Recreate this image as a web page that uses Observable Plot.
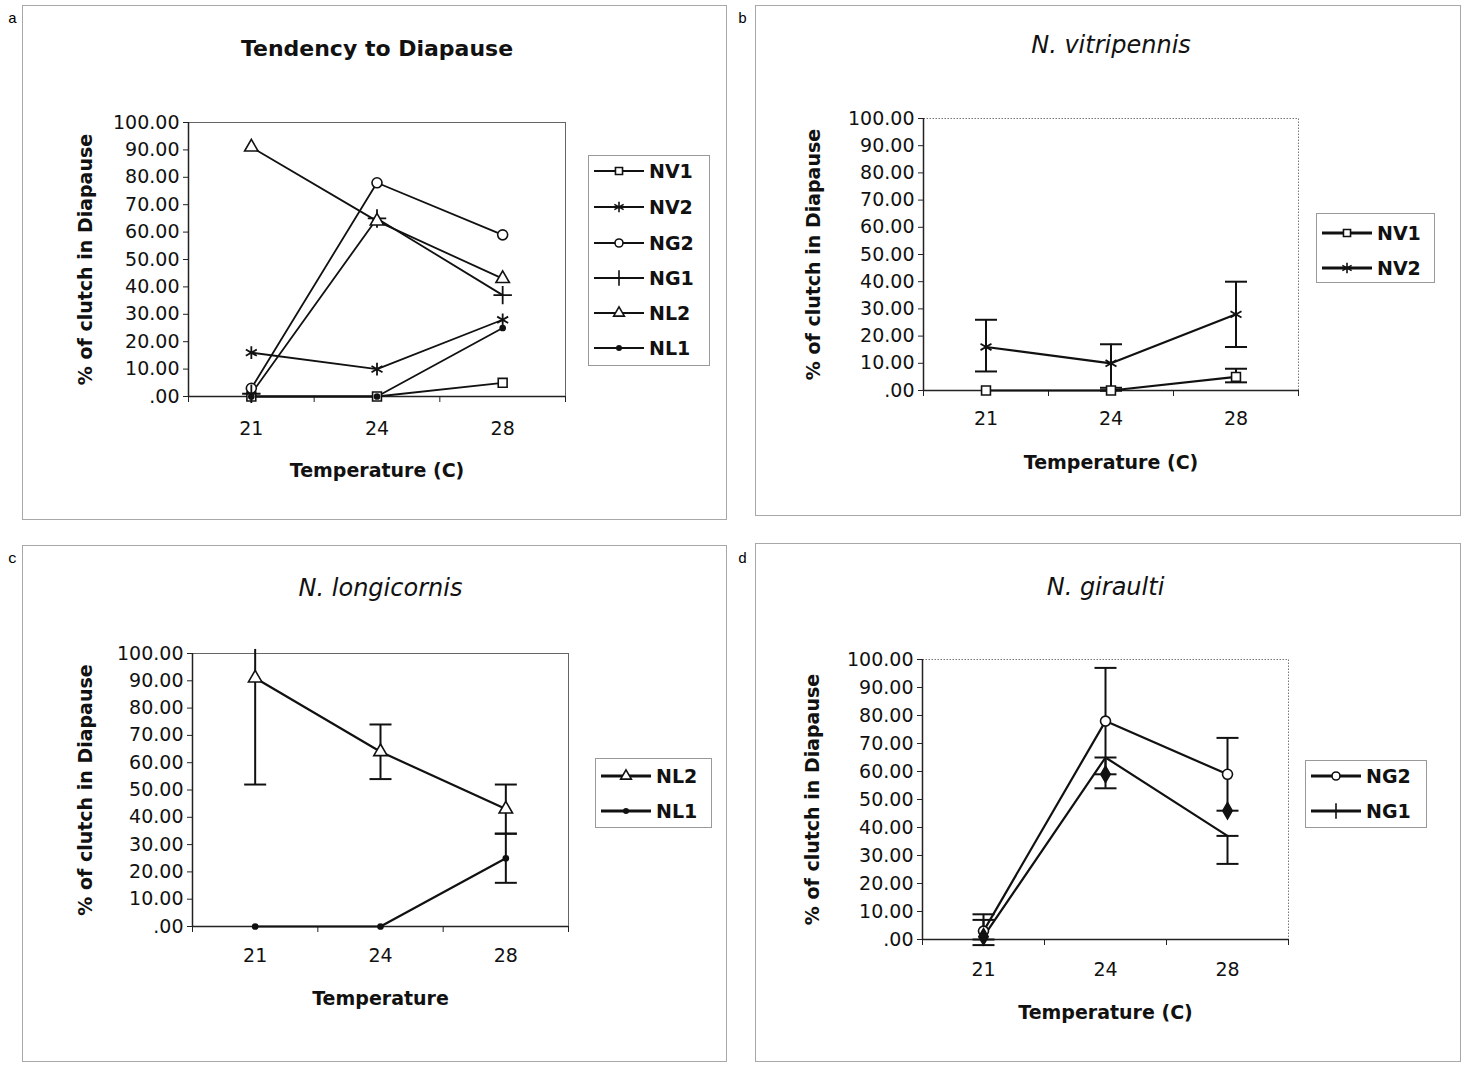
<!DOCTYPE html>
<html><head><meta charset="utf-8">
<script src="https://cdn.jsdelivr.net/npm/d3@7"></script>
<script src="https://cdn.jsdelivr.net/npm/@observablehq/plot@0.6"></script>
<style>
body{margin:0;background:#fff;font-family:"DejaVu Sans",Arial,sans-serif;}
#root{position:relative;width:1461px;height:1065px;overflow:hidden;background:#fff;}
.panel{position:absolute;border:1px solid #a8a8a8;box-sizing:border-box;}
.plotwrap{position:absolute;}
.plotwrap svg{overflow:visible;}
.letter{position:absolute;font-family:"Liberation Mono","DejaVu Sans Mono",monospace;font-size:15px;line-height:1;}
.legend{position:absolute;border:1px solid #999;background:#fff;box-sizing:border-box;}
.legend .row{position:absolute;left:4px;display:flex;align-items:center;font-weight:bold;font-size:19px;line-height:1;color:#111;}
.legend .row svg{margin-right:4px;}
</style></head><body><div id="root"></div>
<script>
// ---------------- data ----------------
const temps = [21, 24, 28];
const yTicks = [0, 10, 20, 30, 40, 50, 60, 70, 80, 90, 100];

const NV1 = [0, 0, 5];
const NV2 = [16, 10, 28];
const NG2 = [3, 78, 59];
const NG1 = [1, 65, 37];
const NL2 = [91, 64, 43];
const NL1 = [0, 0, 25];

// error bar ends (low / high)
const NV1_lo = [0, 0, 3],   NV1_hi = [0, 1, 8];
const NV2_lo = [7, 0, 16],  NV2_hi = [26, 17, 40];
const NL2_lo = [52, 54, 34], NL2_hi = [101.5, 74, 52];
const NL1_lo = [0, 0, 16],  NL1_hi = [0, 0, 34];
const NG2_lo = [0, 59, 46], NG2_hi = [9, 97, 72];
const NG1_lo = [-2, 54, 27], NG1_hi = [7, 65, 37];
// NG1 markers as drawn in panel d
const NG1_markD = [1, 59, 46];

const values = {NV1, NV2, NG2, NG1, NL2, NL1};
const errors = {
  NV1: [NV1_lo, NV1_hi], NV2: [NV2_lo, NV2_hi], NL2: [NL2_lo, NL2_hi],
  NL1: [NL1_lo, NL1_hi], NG2: [NG2_lo, NG2_hi], NG1: [NG1_lo, NG1_hi]
};
const symbolOf = {NV1: "square", NV2: "asterisk", NG2: "circle", NG1: "plus", NL2: "triangle", NL1: "dot"};

// ---------------- layout ----------------
const panels = [
  {letter: "a", letterPos: [8, 12], box: [22, 5, 727, 520], plot: [188, 122, 565, 396],
   title: "Tendency to Diapause", titleItalic: false, titleY: 48, xlabel: "Temperature (C)", xTickDy: 35, xlabelY: 470, ylabelX: 85,
   series: ["NV1", "NV2", "NG2", "NG1", "NL2", "NL1"], err: false, dotted: false,
   legend: {box: [588, 155, 710, 366], rows: [170, 206, 242, 277, 312, 347], lw: 2}},
  {letter: "b", letterPos: [738, 12], box: [755, 5, 1461, 516], plot: [923, 118, 1298, 390],
   title: "N. vitripennis", titleItalic: true, titleY: 45, xlabel: "Temperature (C)", xTickDy: 31, xlabelY: 462, ylabelX: 813,
   series: ["NV1", "NV2"], err: true, dotted: true,
   legend: {box: [1316, 213, 1435, 283], rows: [232, 267], lw: 3}},
  {letter: "c", letterPos: [8, 552], box: [22, 545, 727, 1062], plot: [192, 653, 568, 926],
   title: "N. longicornis", titleItalic: true, titleY: 588, xlabel: "Temperature", xTickDy: 32, xlabelY: 998, ylabelX: 85,
   series: ["NL2", "NL1"], err: true, dotted: false,
   legend: {box: [595, 758, 712, 828], rows: [775, 810], lw: 3}},
  {letter: "d", letterPos: [738, 552], box: [755, 543, 1461, 1062], plot: [922, 659, 1288, 939],
   title: "N. giraulti", titleItalic: true, titleY: 587, xlabel: "Temperature (C)", xTickDy: 33, xlabelY: 1012, ylabelX: 812,
   series: ["NG2", "NG1"], err: true, dotted: true, markOverride: {NG1: NG1_markD},
   legend: {box: [1305, 760, 1427, 828], rows: [775, 810], lw: 3}}
];

const capSymbol = {draw(ctx) { ctx.moveTo(-11, 0); ctx.lineTo(11, 0); }};
const root = document.getElementById("root");
const FONT = "'DejaVu Sans', Arial, sans-serif";

function dotOptions(sym) {
  if (sym === "dot") return {symbol: "circle", r: 2.6, fill: "#111", stroke: "#111"};
  if (sym === "asterisk" || sym === "plus") return {symbol: sym, r: 6, fill: "none", stroke: "#111", strokeWidth: 1.8};
  return {symbol: sym, r: 5, fill: "white", stroke: "#111", strokeWidth: 1.6};
}

for (const p of panels) {
  const [bx0, by0, bx1, by1] = p.box;
  const [px0, py0, px1, py1] = p.plot;
  const W = bx1 - bx0, H = by1 - by0;

  const box = document.createElement("div");
  box.className = "panel";
  Object.assign(box.style, {left: bx0 + "px", top: by0 + "px", width: W + "px", height: H + "px"});
  root.appendChild(box);

  const lt = document.createElement("div");
  lt.className = "letter";
  lt.textContent = p.letter;
  Object.assign(lt.style, {left: p.letterPos[0] + "px", top: p.letterPos[1] + "px"});
  root.appendChild(lt);

  const marks = [];
  marks.push(p.dotted ? Plot.frame({stroke: "#777", strokeDasharray: "1.5,1.5"}) : Plot.frame({stroke: "#666"}));
  marks.push(Plot.ruleX([0], {stroke: "#222", strokeWidth: 1.5}));
  marks.push(Plot.ruleY([0], {stroke: "#222", strokeWidth: 1.5}));
  marks.push(Plot.axisY({ticks: yTicks, tickFormat: d => d === 0 ? ".00" : d.toFixed(2), tickSize: 5, tickPadding: 4, label: null, stroke: "#222"}));
  marks.push(Plot.axisX({ticks: [0, 1, 2, 3], tickFormat: () => "", tickSize: 6, label: null, stroke: "#222"}));
  marks.push(Plot.axisX({ticks: [0.5, 1.5, 2.5], tickFormat: v => temps[Math.floor(v)], tickSize: 0, tickPadding: p.xTickDy - 10, label: null}));

  if (p.err) {
    const erows = [];
    for (const s of p.series) {
      const [lo, hi] = errors[s];
      temps.forEach((t, i) => { if (hi[i] > lo[i]) erows.push({x: i + 0.5, lo: lo[i], hi: hi[i]}); });
    }
    marks.push(Plot.ruleX(erows, {x: "x", y1: "lo", y2: "hi", stroke: "#111", strokeWidth: 2}));
    marks.push(Plot.dot(erows, {x: "x", y: "lo", symbol: capSymbol, stroke: "#111", strokeWidth: 2}));
    marks.push(Plot.dot(erows.filter(d => d.hi <= 100), {x: "x", y: "hi", symbol: capSymbol, stroke: "#111", strokeWidth: 2}));
  }
  for (const s of p.series) {
    const rows = temps.map((t, i) => ({x: i + 0.5, y: values[s][i]}));
    marks.push(Plot.line(rows, {x: "x", y: "y", stroke: "#111", strokeWidth: p.err ? 2.2 : 1.8}));
  }
  for (const s of p.series) {
    const override = p.markOverride && p.markOverride[s];
    const src = override || values[s];
    const rows = temps.map((t, i) => ({x: i + 0.5, y: src[i]}));
    if (override) {
      marks.push(Plot.dot(rows, {x: "x", y: "y", symbol: "diamond", r: 5, fill: "#111", stroke: "#111"}));
    } else {
      marks.push(Plot.dot(rows, {x: "x", y: "y", ...dotOptions(symbolOf[s])}));
    }
  }
  // title & axis labels
  marks.push(Plot.text([p.title], {text: d => d, frameAnchor: "top", dy: p.titleY - py0,
    fontSize: p.titleItalic ? 24 : 22, fontWeight: p.titleItalic ? "normal" : "bold", fontStyle: p.titleItalic ? "italic" : "normal", lineAnchor: "middle"}));
  marks.push(Plot.text([p.xlabel], {text: d => d, frameAnchor: "bottom", dy: p.xlabelY - py1, fontSize: 19, fontWeight: "bold", lineAnchor: "middle"}));
  marks.push(Plot.text(["% of clutch in Diapause"], {text: d => d, frameAnchor: "left", textAnchor: "middle", dx: p.ylabelX - px0, rotate: -90, fontSize: 19, fontWeight: "bold"}));

  const chart = Plot.plot({
    width: W, height: H,
    marginLeft: px0 - bx0, marginRight: bx1 - px1, marginTop: py0 - by0, marginBottom: by1 - py1,
    x: {type: "linear", domain: [0, 3]},
    y: {type: "linear", domain: [0, 100]},
    style: {fontFamily: FONT, fontSize: "19px", color: "#111", background: "transparent", overflow: "visible"},
    marks
  });
  const wrap = document.createElement("div");
  wrap.className = "plotwrap";
  Object.assign(wrap.style, {left: bx0 + "px", top: by0 + "px"});
  wrap.appendChild(chart);
  root.appendChild(wrap);

  // legend
  const lg = document.createElement("div");
  lg.className = "legend";
  const [lx0, ly0, lx1, ly1] = p.legend.box;
  Object.assign(lg.style, {left: lx0 + "px", top: ly0 + "px", width: (lx1 - lx0) + "px", height: (ly1 - ly0) + "px"});
  p.series.forEach((s, k) => {
    const row = document.createElement("div");
    row.className = "row";
    row.style.top = (p.legend.rows[k] - ly0 - 10) + "px";
    const svg = d3.create("svg").attr("width", 52).attr("height", 20);
    svg.append("line").attr("x1", 1).attr("x2", 51).attr("y1", 10).attr("y2", 10).attr("stroke", "#111").attr("stroke-width", p.legend.lw);
    const sym = symbolOf[s];
    const g = svg.append("g").attr("transform", "translate(26,10)");
    if (sym === "dot") {
      g.append("circle").attr("r", 3).attr("fill", "#111");
    } else {
      const type = {square: d3.symbolSquare, asterisk: d3.symbolAsterisk, circle: d3.symbolCircle, plus: d3.symbolPlus, triangle: d3.symbolTriangle}[sym];
      const hollow = sym === "square" || sym === "circle" || sym === "triangle";
      g.append("path").attr("d", d3.symbol(type, hollow ? 50 : 80)())
        .attr("fill", hollow ? "white" : "none").attr("stroke", "#111").attr("stroke-width", 1.6);
    }
    row.appendChild(svg.node());
    const tx = document.createElement("span");
    tx.textContent = s;
    row.appendChild(tx);
    lg.appendChild(row);
  });
  root.appendChild(lg);
}
</script></body></html>
